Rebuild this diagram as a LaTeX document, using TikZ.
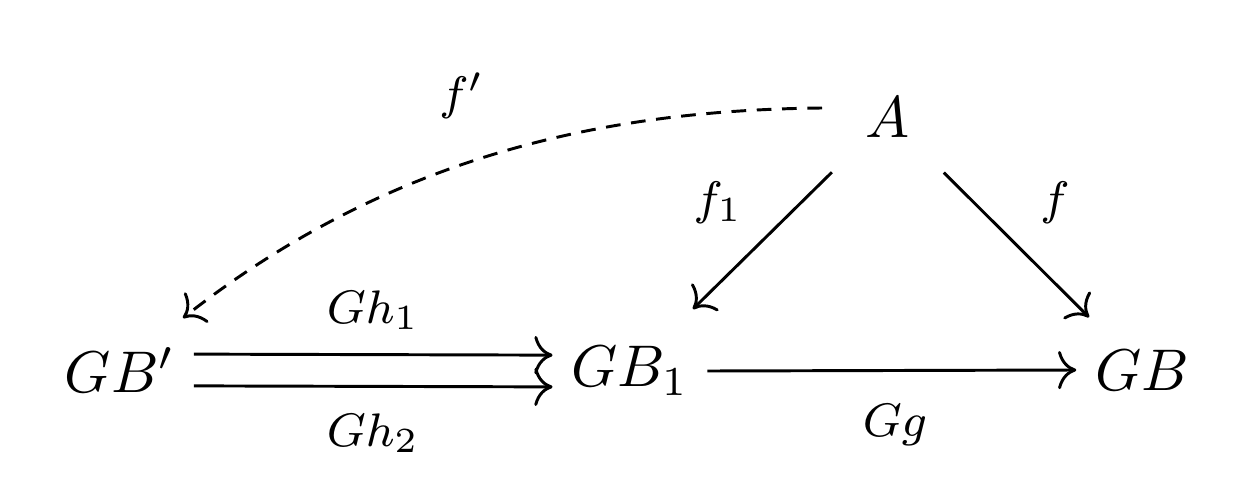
\documentclass[tikz,border=0pt]{standalone}
\usetikzlibrary{cd}
\begin{document}
\begin{tikzpicture}[x=0.17pt,y=-0.17pt,
  obj/.style={inner sep=3pt},
  lab/.style={inner sep=0pt,font=\footnotesize},
  arr/.style={-cm to,line width=0.5pt},
  dsh/.style={dash pattern=on 2.5pt off 1.8pt}]
\path[use as bounding box] (0,0) rectangle (1256,486);
\node[obj] (A) at (888,117) {$A$};
\node[obj] (GBp) at (120,370) {$GB'$};
\node[obj] (GB1) at (630,371) {$GB_1$};
\node[obj] (GB) at (1142,370) {$GB$};
% labels
\node[lab] (lfp) at (462,96) {$f'$};
\node[lab] (lf1) at (718,203) {$f_1$};
\node[lab] (lf) at (1055,203) {$f$};
\node[lab] (lgh1) at (373,310) {$Gh_1$};
\node[lab] (lgh2) at (373,433) {$Gh_2$};
\node[lab] (lgg) at (895,425) {$Gg$};
% arrows
\draw[arr] ([yshift=2.7pt]GBp.east) -- ([yshift=2.7pt]GB1.west);
\draw[arr] ([yshift=-2.7pt]GBp.east) -- ([yshift=-2.7pt]GB1.west);
\draw[arr] (GB1.east) -- (GB.west);
\draw[arr,shorten <=13.4pt,shorten >=15pt] (A.center) -- (GB1.center);
\draw[arr,shorten <=13.4pt,shorten >=12.7pt] (A.center) -- (GB.center);
\draw[arr,dsh] ([shift={(-66,-9)}]A.center) .. controls (611,110) and (393,153) .. ([shift={(63,-52)}]GBp.center);
\end{tikzpicture}
\end{document}
